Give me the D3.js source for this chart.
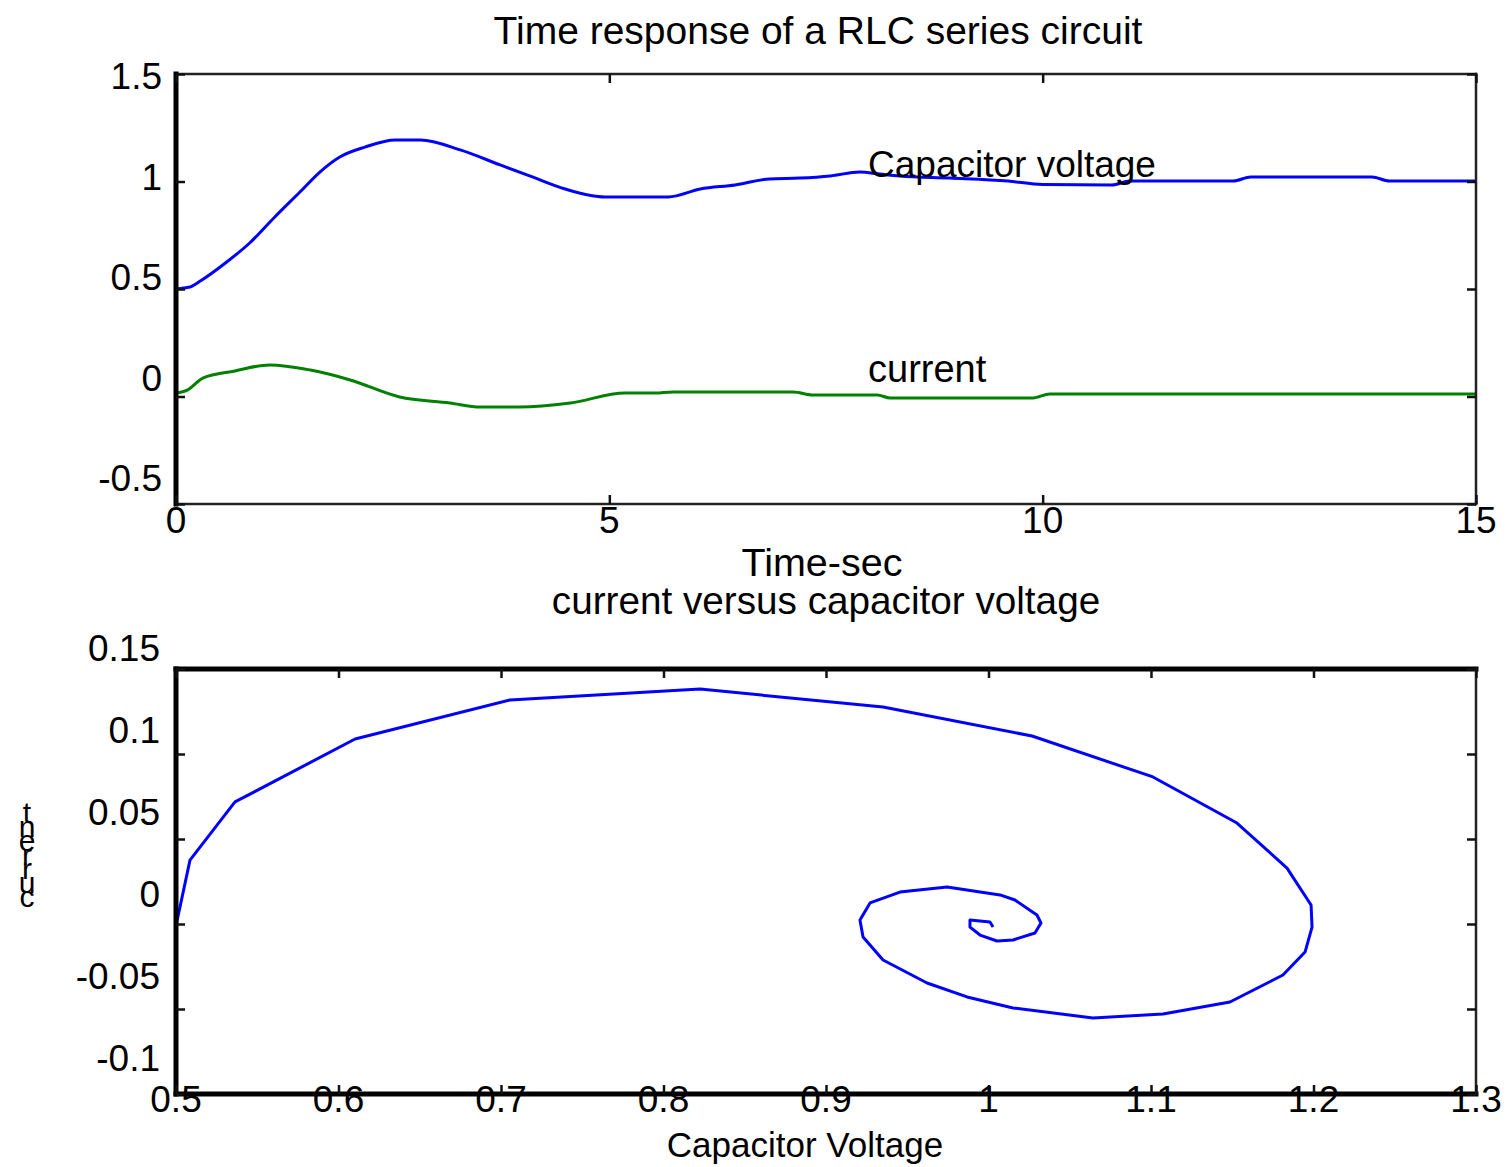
<!DOCTYPE html>
<html>
<head>
<meta charset="utf-8">
<script src="https://cdn.jsdelivr.net/npm/d3@7"></script>
<style>
  html, body { margin: 0; padding: 0; background: #fff; }
  text { font-family: "Liberation Sans", Arial, Helvetica, sans-serif; fill: #000; }
</style>
</head>
<body>
<div id="chart"></div>
<script>
// ---- data ----
// top plot: time response
const timeVc = [0, 0.16, 0.28, 0.57, 0.85, 1.14, 1.43, 1.66, 1.89, 2.18, 2.53, 2.82, 3.28, 3.74, 4.08, 4.49, 4.95, 5.68, 6.05, 6.45, 6.85, 7.2, 7.55, 7.89, 8.12, 8.35, 8.93, 9.6, 10.0, 10.8, 11.0, 12.2, 12.4, 13.8, 14.0, 15];
const capVoltage = [0.50, 0.509, 0.537, 0.621, 0.714, 0.835, 0.951, 1.044, 1.114, 1.160, 1.193, 1.193, 1.147, 1.077, 1.026, 0.965, 0.928, 0.928, 0.965, 0.984, 1.012, 1.016, 1.026, 1.044, 1.035, 1.026, 1.016, 1.002, 0.986, 0.984, 1.002, 1.002, 1.021, 1.021, 1.002, 1.002];

const timeI = [0, 0.13, 0.31, 0.68, 1.08, 1.55, 2.01, 2.58, 3.16, 3.51, 3.97, 4.55, 5.18, 5.53, 5.73, 7.12, 7.35, 8.09, 8.24, 9.89, 10.08, 15];
const current = [0.016, 0.030, 0.086, 0.119, 0.147, 0.123, 0.077, -0.002, -0.030, -0.049, -0.049, -0.030, 0.016, 0.016, 0.021, 0.021, 0.007, 0.007, -0.007, -0.007, 0.012, 0.012];

// bottom plot: phase portrait
const phaseV = [0.500, 0.5086, 0.5363, 0.6102, 0.7055, 0.8225, 0.9351, 1.0268, 1.1012, 1.1529, 1.1837, 1.1985, 1.1991, 1.1948, 1.1812, 1.1486, 1.1074, 1.0643, 1.0151, 0.9868, 0.9622, 0.9351, 0.9228, 0.9209, 0.9271, 0.9455, 0.9745, 1.0071, 1.0163, 1.0298, 1.0323, 1.0286, 1.0151, 1.0052, 0.9948, 0.9886, 0.9886, 1.0009, 1.0028];
const phaseI = [-0.001, 0.0376, 0.0718, 0.1088, 0.1318, 0.1382, 0.1276, 0.1106, 0.0865, 0.0594, 0.0329, 0.0112, -0.0018, -0.0165, -0.0300, -0.0459, -0.0529, -0.0553, -0.0494, -0.0429, -0.0347, -0.0212, -0.0076, 0.0024, 0.0124, 0.0188, 0.0218, 0.0171, 0.0141, 0.0053, 0.0006, -0.0053, -0.0094, -0.0100, -0.0065, -0.0018, 0.0024, 0.0012, -0.0018];

// ticks
const topXTicks = [0, 5, 10, 15];
const topYTicks = [-0.5, 0, 0.5, 1, 1.5];
const botXTicks = [0.5, 0.6, 0.7, 0.8, 0.9, 1, 1.1, 1.2, 1.3];
const botYTicks = [-0.1, -0.05, 0, 0.05, 0.1, 0.15];

const COLORS = { vc: '#0000ff', i: '#008000', phase: '#0000ff', frame: '#000', thin: '#222' };
const FONT = { tick: 37, title: 39 };

const svg = d3.select('#chart').append('svg')
  .attr('width', 1510)
  .attr('height', 1167);

// ---- scales ----
const xTop = d3.scaleLinear().domain([0, 15]).range([176, 1476]);
const yTop = d3.scaleLinear().domain([-0.5, 1.5]).range([504, 74]);
const yTopLabel = d3.scaleLinear().domain([-0.5, 1.5]).range([478, 76]);

const xBot = d3.scaleLinear().domain([0.5, 1.3]).range([176, 1476]);
const yBot = d3.scaleLinear().domain([-0.1, 0.15]).range([1094, 669]);
const yBotLabel = d3.scaleLinear().domain([-0.1, 0.15]).range([1058, 648]);

// draw the frame with inward ticks; thick sides listed in `heavy`
function drawFrame(g, x, y, xt, yt, heavy) {
  const [x0, x1] = x.range();
  const [y0, y1] = y.range();
  const sides = {
    top:    [x0, y1, x1, y1],
    bottom: [x0, y0, x1, y0],
    left:   [x0, y0, x0, y1],
    right:  [x1, y0, x1, y1]
  };
  for (let s in sides) {
    const [a, b, c, d] = sides[s];
    const isHeavy = heavy.includes(s);
    g.append('line')
      .attr('x1', a).attr('y1', b).attr('x2', c).attr('y2', d)
      .attr('stroke', isHeavy ? COLORS.frame : COLORS.thin)
      .attr('stroke-width', isHeavy ? 5 : 2.5)
      .attr('stroke-linecap', 'square');
  }

  const tick = 9;
  g.append('g').attr('transform', `translate(0,${y1})`)
    .call(d3.axisTop(x).tickValues(xt).tickSizeInner(-tick).tickSizeOuter(0).tickFormat(''))
    .call(a => a.select('.domain').remove());
  g.append('g').attr('transform', `translate(0,${y0})`)
    .call(d3.axisBottom(x).tickValues(xt).tickSizeInner(-tick).tickSizeOuter(0).tickFormat(''))
    .call(a => a.select('.domain').remove());
  g.append('g').attr('transform', `translate(${x0},0)`)
    .call(d3.axisLeft(y).tickValues(yt).tickSizeInner(-tick).tickSizeOuter(0).tickFormat(''))
    .call(a => a.select('.domain').remove());
  g.append('g').attr('transform', `translate(${x1},0)`)
    .call(d3.axisRight(y).tickValues(yt).tickSizeInner(-tick).tickSizeOuter(0).tickFormat(''))
    .call(a => a.select('.domain').remove());
  g.selectAll('.tick line').attr('stroke', '#111').attr('stroke-width', 2.5);
}

function tickLabels(g, values, pos, axis, offset) {
  g.selectAll(null)
      .data(values)
    .enter().append('text')
      .text(d => String(d))
      .attr('font-size', FONT.tick)
      .attr('text-anchor', axis === 'y' ? 'end' : 'middle')
      .attr('x', d => axis === 'y' ? offset : pos(d))
      .attr('y', d => axis === 'y' ? pos(d) : offset)
      .attr('dy', '0.36em');
}

// ---- top plot ----
const topPlot = svg.append('g');

topPlot.append('text')
  .text('Time response of a RLC series circuit')
  .attr('x', 818).attr('y', 44)
  .attr('font-size', FONT.title)
  .attr('text-anchor', 'middle');

const lineVc = d3.line()
  .x(d => xTop(d[0]))
  .y(d => yTop(d[1]))
  .curve(d3.curveMonotoneX);

topPlot.append('path')
  .datum(d3.zip(timeVc, capVoltage))
  .attr('d', lineVc)
  .attr('fill', 'none')
  .attr('stroke', COLORS.vc)
  .attr('stroke-width', 3);

topPlot.append('path')
  .datum(d3.zip(timeI, current))
  .attr('d', d3.line().x(d => xTop(d[0])).y(d => yTop(d[1])).curve(d3.curveMonotoneX))
  .attr('fill', 'none')
  .attr('stroke', COLORS.i)
  .attr('stroke-width', 3);

drawFrame(topPlot, xTop, yTop, topXTicks, topYTicks, ['left']);

tickLabels(topPlot, topYTicks, yTopLabel, 'y', 162);
tickLabels(topPlot, topXTicks, xTop, 'x', 520);

topPlot.append('text')
  .text('Capacitor voltage')
  .attr('x', 868).attr('y', 177)
  .attr('font-size', 37);

topPlot.append('text')
  .text('current')
  .attr('x', 868).attr('y', 382)
  .attr('font-size', 38);

topPlot.append('text')
  .text('Time-sec')
  .attr('x', 822).attr('y', 576)
  .attr('font-size', 39.5)
  .attr('text-anchor', 'middle');

// ---- bottom plot ----
const botPlot = svg.append('g');

botPlot.append('text')
  .text('current versus capacitor voltage')
  .attr('x', 826).attr('y', 614)
  .attr('font-size', 38.7)
  .attr('text-anchor', 'middle');

botPlot.append('path')
  .datum(d3.zip(phaseV, phaseI))
  .attr('d', d3.line().x(d => xBot(d[0])).y(d => yBot(d[1])))
  .attr('fill', 'none')
  .attr('stroke', COLORS.phase)
  .attr('stroke-width', 3)
  .attr('stroke-linejoin', 'round');

drawFrame(botPlot, xBot, yBot, botXTicks, botYTicks, ['top', 'left', 'bottom']);

tickLabels(botPlot, botYTicks, yBotLabel, 'y', 160);
tickLabels(botPlot, botXTicks, xBot, 'x', 1099);

botPlot.append('text')
  .text('Capacitor Voltage')
  .attr('x', 805).attr('y', 1157)
  .attr('font-size', 35)
  .attr('text-anchor', 'middle');

// y label: the letters of "current" stacked upward, as in the original
const yLabel = 'current'.split('');
botPlot.selectAll('.ylab')
    .data(yLabel)
  .enter().append('text')
    .classed('ylab', true)
    .text(d => d)
    .attr('font-size', 30)
    .attr('text-anchor', 'middle')
    .attr('x', 27)
    .attr('y', (d, i) => 907 - i * 14);
</script>
</body>
</html>
